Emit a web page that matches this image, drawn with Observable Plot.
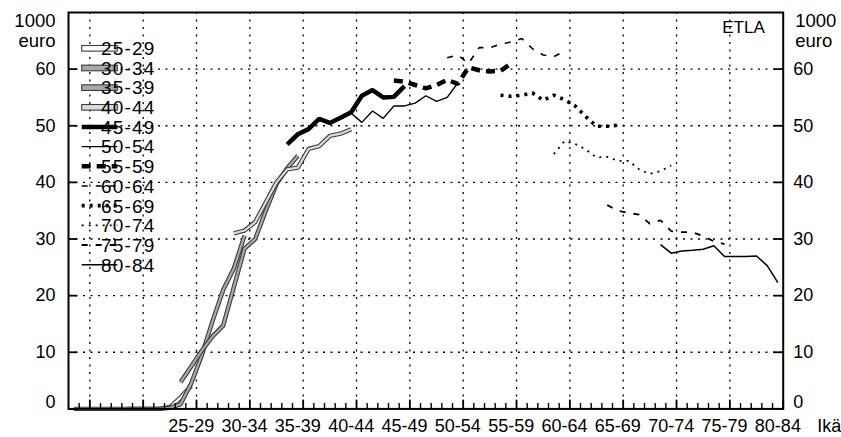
<!DOCTYPE html>
<html><head><meta charset="utf-8">
<script src="https://cdn.jsdelivr.net/npm/d3@7"></script>
<script src="https://cdn.jsdelivr.net/npm/@observablehq/plot@0.6"></script>
<style>body{margin:0;background:#fff}svg{display:block}</style>
</head><body><div id="chart"></div>
<script>
// Cohorts (age group in the final year) and the age (mid-point) at which each line ends
const cohorts = ["25-29","30-34","35-39","40-44","45-49","50-54","55-59","60-64","65-69","70-74","75-79","80-84"];
const endAges = [27,32,37,42,47,52,57,62,67,72,77,82];
const yearsFollowed = 12;
// Values, 1000 euro, one per year of age, from endAge-11 to endAge
const v2529 = [0,0,0,0,0,0,0,0,0,0.3,2.0,4.1];
const v3034 = [0,0,0,0,0.2,0.8,4.5,9.5,15.5,21.0,24.8,30.6];
const v3539 = [4.7,7.5,10.3,12.8,14.7,21.5,28.3,30.0,35.0,39.7,42.5,44.7];
const v4044 = [31.0,31.5,33.0,36.5,40.0,42.3,42.6,45.9,46.4,48.2,48.6,49.4];
const v4549 = [46.7,48.5,49.4,51.2,50.5,51.4,52.4,55.3,56.3,55.0,55.1,57.0];
const v5054 = [51.6,52.2,50.6,52.6,51.3,53.5,53.5,54.0,55.3,54.3,55.0,57.6];
const v5559 = [58.0,57.8,57.2,56.6,57.2,58.1,57.4,60.3,59.8,59.6,59.7,61.0];
const v6064 = [62.0,62.5,61.0,63.8,63.8,64.4,64.8,65.4,63.6,62.5,62.2,63.2];
const v6569 = [55.4,55.2,55.4,55.8,54.5,55.4,54.6,53.5,51.6,49.9,49.9,50.1];
const v7074 = [45.0,47.3,46.8,45.8,44.4,44.5,43.8,43.8,42.3,41.5,42.0,43.0];
const v7579 = [36.0,35.0,34.6,34.3,32.7,33.3,31.4,31.2,31.2,30.5,29.6,29.1];
const v8084 = [29.0,27.5,27.9,28.0,28.2,28.8,26.9,26.9,26.9,27.0,25.3,22.3];
const series = [v2529,v3034,v3539,v4044,v4549,v5054,v5559,v6064,v6569,v7074,v7579,v8084];
const yTicks = [0,10,20,30,40,50,60];
const unitLines = ["1000", "euro"];
const xDomain = [15.5, 82.5];
const yDomain = [0, 70];

// styles
const styles = [
  {outline:true, fill:"#ffffff"},
  {outline:true, fill:"#a9a9a9"},
  {outline:true, fill:"#a9a9a9"},
  {outline:true, fill:"#dcdcdc"},
  {w:4.5},
  {w:1.4},
  {w:4.5, dash:"9,6"},
  {w:1.6, dash:"6,8"},
  {w:3.6, dash:"3,5"},
  {w:1.8, dash:"2,5"},
  {w:1.8, dash:"6,8"},
  {w:1.5}
];

const rows = [];
series.forEach((vals, i) => {
  vals.forEach((v, j) => rows.push({cohort: cohorts[i], age: endAges[i] - (yearsFollowed - 1) + j, value: v}));
});

const majorX = d3.range(xDomain[0] + 2, xDomain[1] + 0.01, 5);
const minorX = d3.range(xDomain[0] + 1, xDomain[1], 1).filter(a => !majorX.some(m => Math.abs(m - a) < 1e-6));

const lineMarks = [];
cohorts.forEach((c, i) => {
  const st = styles[i];
  const data = rows.filter(r => r.cohort === c);
  if (st.outline) {
    lineMarks.push(Plot.line(data, {x: "age", y: "value", stroke: "#3a3a3a", strokeWidth: 4.4, strokeLinejoin: "miter", strokeLinecap: "butt"}));
    lineMarks.push(Plot.line(data, {x: "age", y: "value", stroke: st.fill, strokeWidth: 2.2, strokeLinejoin: "miter", strokeLinecap: "butt"}));
  } else {
    lineMarks.push(Plot.line(data, {x: "age", y: "value", stroke: "#000", strokeWidth: st.w, strokeDasharray: st.dash, strokeLinejoin: "miter", strokeLinecap: "butt"}));
  }
});

const FONT = "'Liberation Sans', Arial, Helvetica, sans-serif";
const gridStyle = {stroke: "#000", strokeOpacity: 1, strokeWidth: 1.3, strokeDasharray: "2,5.5"};

const plot = Plot.plot({
  width: 841, height: 437,
  marginLeft: 68, marginRight: 58.3, marginTop: 12, marginBottom: 28.6,
  style: {fontFamily: FONT, fontSize: "18px", background: "#fff", color: "#000", overflow: "visible"},
  x: {domain: xDomain, axis: null},
  y: {domain: yDomain, axis: null},
  marks: [
    Plot.gridX(majorX.filter(a => a < xDomain[1] - 0.01), gridStyle),
    Plot.gridY(yTicks.filter(t => t > 0), gridStyle),
    ...lineMarks,
    Plot.ruleX(minorX, {x: d => d, y1: 0, y2: 0.95, stroke: "#000", strokeWidth: 1.4}),
    Plot.ruleX(majorX, {x: d => d, y1: 0, y2: 1.55, stroke: "#000", strokeWidth: 1.8}),
    Plot.ruleY(yTicks, {y: d => d, x1: xDomain[0], x2: xDomain[0] + 0.85, stroke: "#000", strokeWidth: 1.8}),
    Plot.ruleY(yTicks, {y: d => d, x1: xDomain[1] - 0.85, x2: xDomain[1], stroke: "#000", strokeWidth: 1.8}),
    Plot.frame({stroke: "#000", strokeWidth: 2}),
    Plot.axisX({ticks: endAges, tickFormat: d => cohorts[endAges.indexOf(d)], tickSize: 0, tickPadding: 10, fontSize: 18, label: null}),
    Plot.axisY({anchor: "left", ticks: yTicks.filter(t => t > 0), tickFormat: d => String(d), tickSize: 0, tickPadding: 13, fontSize: 18, label: null}),
    Plot.axisY({anchor: "left", ticks: [0], tickFormat: d => String(d), tickSize: 0, tickPadding: 13, fontSize: 18, dy: -7, label: null}),
    Plot.axisY({anchor: "right", ticks: yTicks.filter(t => t > 0), tickFormat: d => String(d), tickSize: 0, tickPadding: 10, fontSize: 18, label: null}),
    Plot.axisY({anchor: "right", ticks: [0], tickFormat: d => String(d), tickSize: 0, tickPadding: 10, fontSize: 18, dy: -7, label: null}),
    Plot.text([unitLines[0]], {frameAnchor: "top-left", textAnchor: "end", lineAnchor: "bottom", dx: -13, dy: 14.5, fontSize: 18.5}),
    Plot.text([unitLines[1]], {frameAnchor: "top-left", textAnchor: "end", lineAnchor: "bottom", dx: -13, dy: 34.5, fontSize: 18.5}),
    Plot.text([unitLines[0]], {frameAnchor: "top-right", textAnchor: "start", lineAnchor: "bottom", dx: 12, dy: 14.5, fontSize: 18.5}),
    Plot.text([unitLines[1]], {frameAnchor: "top-right", textAnchor: "start", lineAnchor: "bottom", dx: 12, dy: 34.5, fontSize: 18.5}),
    Plot.text(["ETLA"], {frameAnchor: "top-right", textAnchor: "start", lineAnchor: "top", dx: -61, dy: 8, fontSize: 17, letterSpacing: 1.5}),
    Plot.text(["Ikä"], {frameAnchor: "bottom-right", textAnchor: "start", lineAnchor: "top", dx: 34, dy: 10, fontSize: 18})
  ]
});
document.getElementById("chart").appendChild(plot);

// Legend (inside the plot area, top-left)
const svg = d3.select(plot);
const lg = svg.append("g").attr("font-family", FONT).attr("font-size", 19);
const lx0 = 81.7, lx1 = 117.3, ly0 = 48.3, ldy = 19.67;
cohorts.forEach((c, i) => {
  const st = styles[i];
  const y = ly0 + i * ldy;
  if (st.outline) {
    lg.append("rect").attr("x", lx0).attr("y", y - 2.8).attr("width", lx1 - lx0).attr("height", 5.6)
      .attr("fill", st.fill).attr("stroke", "#3a3a3a").attr("stroke-width", 1.1);
  } else {
    lg.append("line").attr("x1", lx0).attr("x2", lx1).attr("y1", y).attr("y2", y)
      .attr("stroke", "#000").attr("stroke-width", st.w).attr("stroke-dasharray", st.dash || null);
  }
  lg.append("text").attr("x", 128.3).attr("y", y).attr("dy", "0.36em").attr("letter-spacing", 1.2).text(c);
});
</script>
</body></html>
